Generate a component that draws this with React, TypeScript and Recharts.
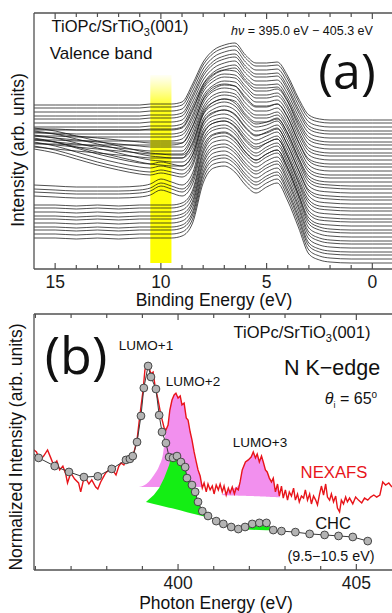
import React from 'react'
import { LineChart, ComposedChart, Line, Area, XAxis, YAxis, ReferenceArea } from 'recharts'

// ---------- panel (a): valence band spectra, stacked ----------
const bindingEnergy = [16, 15, 14, 13, 12, 11, 10.5, 10, 9.5, 9, 8.5, 8, 7.5, 7, 6.5, 6, 5.5, 5, 4.5, 4, 3.5, 3, 2.5, 2, 1, 0, -1]
const bindingTicks = [15, 14, 13, 12, 11, 10, 9, 8, 7, 6, 5, 4, 3, 2, 1, 0]

// spectrum shapes, height above each trace's own baseline
const shapePre = [25, 25, 24, 25, 24, 25, 25, 25, 25, 27, 40, 80, 95, 97, 91, 78, 70, 76, 80, 62, 36, 9, 3, 1, 0, 0, 0]
const shapeResA = [30, 29, 28, 28, 28, 29, 31, 36, 33, 30, 42, 80, 92, 94, 88, 74, 66, 72, 76, 58, 32, 8, 2, 1, 0, 0, 0]
const shapeResB = [62, 58, 52, 46, 41, 37, 36, 38, 36, 34, 45, 78, 88, 90, 85, 72, 64, 68, 72, 54, 30, 8, 2, 1, 0, 0, 0]
const shapeResC = [58, 55, 50, 45, 40, 35, 33, 32, 31, 31, 42, 74, 84, 87, 83, 70, 62, 64, 68, 52, 28, 7, 2, 1, 0, 0, 0]
const shapePost = [35, 33, 31, 29, 27, 25, 24, 24, 24, 24, 40, 68, 80, 83, 81, 68, 60, 60, 63, 49, 25, 6, 1, 0, 0, 0, 0]
const shapeMidTop = [20, 20, 19, 19, 19, 19, 19, 19, 19, 21, 38, 64, 75, 79, 78, 67, 58, 58, 60, 47, 23, 5, 1, 0, 0, 0, 0]
const shapeTop = [15, 15, 15, 15, 15, 15, 16, 16, 16, 18, 36, 58, 70, 75, 77, 65, 57, 57, 58, 44, 22, 5, 1, 0, 0, 0, 0]

const shapes: Record<string, number[]> = {
  pre: shapePre, resA: shapeResA, resB: shapeResB, resC: shapeResC,
  post: shapePost, midTop: shapeMidTop, top: shapeTop,
}

// which shape each trace uses (bottom = 395.0 eV, top = 405.3 eV)
const traceShape = [
  'pre', 'pre', 'pre', 'pre', 'pre', 'pre', 'pre', 'pre', 'pre', 'pre',
  'resA', 'resA', 'resA', 'resA',
  'resB', 'resB', 'resB', 'resB',
  'resC', 'resC', 'resC', 'resC',
  'post', 'post', 'post', 'post', 'post',
  'midTop', 'midTop', 'midTop', 'midTop', 'midTop',
  'top', 'top', 'top', 'top', 'top', 'top', 'top', 'top',
]
const traceOffset = [
  6, 10, 14, 17, 21, 25, 28, 32, 36, 39,
  43, 47, 50, 54, 58, 61, 65, 69, 72, 76,
  80, 83, 87, 91, 94, 98, 102, 105, 109, 113,
  116, 120, 124, 127, 131, 135, 138, 142, 146, 149,
]

// ---------- panel (b): N K-edge NEXAFS and CHC ----------
const nexafsEnergy = [
  395.95, 396.03, 396.12, 396.23, 396.34, 396.43, 396.51, 396.6, 396.68, 396.77, 396.85, 396.9, 396.99, 397.1, 397.21, 397.27,
  397.36, 397.41, 397.5, 397.58, 397.69, 397.75, 397.83, 397.92, 397.97, 398.06, 398.11, 398.2, 398.26, 398.34, 398.4, 398.48,
  398.54, 398.62, 398.68, 398.76, 398.85, 398.93, 399.02, 399.07, 399.13, 399.18, 399.24, 399.3, 399.35, 399.44, 399.52, 399.61,
  399.66, 399.72, 399.77, 399.83, 399.89, 399.94, 400.0, 400.06, 400.11, 400.17, 400.23, 400.28, 400.34, 400.39, 400.45, 400.51,
  400.56, 400.62, 400.68, 400.73, 400.79, 400.84, 400.9, 400.96, 401.01, 401.07, 401.13, 401.18, 401.24, 401.29, 401.35, 401.41,
  401.46, 401.52, 401.58, 401.63, 401.69, 401.74, 401.8, 401.89, 401.97, 402.05, 402.11, 402.17, 402.22, 402.28, 402.34, 402.39,
  402.45, 402.5, 402.56, 402.62, 402.67, 402.73, 402.79, 402.84, 402.9, 402.95, 403.01, 403.07, 403.12, 403.18, 403.24, 403.29,
  403.35, 403.4, 403.46, 403.52, 403.57, 403.63, 403.69, 403.74, 403.8, 403.86, 403.91, 403.97, 404.02, 404.08, 404.14, 404.19,
  404.25, 404.3, 404.36, 404.42, 404.47, 404.53, 404.58, 404.64, 404.7, 404.75, 404.81, 404.9, 404.98, 405.06, 405.15, 405.23,
  405.32, 405.4, 405.49, 405.57, 405.66, 405.74, 405.82, 405.91, 406.0,
]
const nexafsIntensity = [
  46.9, 46.1, 43.0, 44.5, 46.9, 43.8, 41.0, 42.6, 39.1, 40.6, 37.5, 34.0, 37.9, 35.5, 34.0, 30.5,
  35.9, 35.9, 33.6, 35.2, 32.4, 31.6, 34.4, 36.7, 37.9, 39.1, 39.8, 38.3, 37.1, 40.6, 41.8, 41.0,
  43.0, 42.6, 44.1, 45.7, 50.8, 60.5, 70.3, 78.1, 80.5, 79.3, 76.6, 77.3, 72.3, 66.4, 60.5, 55.5,
  54.7, 56.6, 62.5, 66.4, 68.4, 69.1, 67.2, 68.0, 64.5, 65.2, 59.4, 58.6, 53.9, 50.8, 46.1, 42.2,
  39.1, 36.7, 32.0, 34.0, 30.5, 33.6, 31.3, 32.8, 29.7, 33.2, 31.3, 33.6, 30.5, 32.8, 29.3, 32.0,
  30.1, 32.4, 29.7, 32.0, 31.3, 34.4, 39.1, 42.2, 43.0, 44.1, 46.1, 43.8, 45.3, 42.2, 44.5, 42.2,
  39.1, 38.3, 35.9, 34.4, 35.9, 30.5, 33.6, 28.9, 32.8, 28.1, 31.3, 27.3, 30.5, 28.9, 32.0, 27.3,
  29.7, 26.6, 28.9, 28.1, 31.3, 27.3, 29.7, 25.8, 28.9, 27.3, 25.4, 29.7, 32.8, 29.3, 33.6, 28.5,
  27.3, 29.7, 26.6, 28.9, 24.2, 22.7, 27.3, 25.8, 28.5, 26.6, 28.1, 25.8, 28.5, 27.3, 26.2, 28.1,
  27.3, 28.5, 29.3, 28.5, 29.3, 34.4, 33.2, 34.0, 32.4,
]

const chcEnergy = [
  395.7, 396.09, 396.54, 396.94, 397.36, 397.75, 398.14, 398.54, 398.65, 398.73, 398.85, 398.96, 399.04, 399.16, 399.24, 399.38,
  399.47, 399.55, 399.66, 399.75, 399.86, 399.97, 400.08, 400.2, 400.25, 400.39, 400.48, 400.56, 400.68, 400.84, 401.07, 401.27,
  401.49, 401.69, 401.88, 402.08, 402.28, 402.48, 402.67, 402.9, 403.29, 403.69, 404.11, 404.5, 404.9, 405.32,
]
const chcIntensity = [
  48.5, 43.8, 40.6, 38.3, 36.3, 36.6, 39.5, 43.0, 43.4, 44.5, 50.0, 60.2, 71.1, 79.7, 75.4, 70.7,
  60.5, 53.9, 49.6, 44.1, 43.8, 44.5, 42.2, 40.2, 35.9, 33.2, 30.5, 26.6, 23.0, 21.1, 19.1, 18.0,
  16.8, 16.0, 16.8, 18.0, 18.4, 18.4, 15.6, 15.2, 14.8, 14.1, 13.7, 13.3, 12.9, 11.3,
]

// LUMO+2 / LUMO+3 components of NEXAFS (pink)
const lumo2Energy = [398.9, 399.04, 399.18, 399.32, 399.47, 399.58, 399.66, 399.72, 399.77, 399.83, 399.89, 399.94, 400.0, 400.06, 400.11, 400.17, 400.23, 400.28, 400.34, 400.39, 400.45, 400.51, 400.56, 400.62, 400.68]
const lumo2Top = [32.4, 33.0, 34.5, 37.0, 40.6, 45.5, 54.7, 56.6, 62.5, 66.4, 68.4, 69.1, 67.2, 68.0, 64.5, 65.2, 59.4, 58.6, 53.9, 50.8, 46.1, 42.2, 39.1, 36.7, 32.2]
const lumo2Base = [32.4, 32.4, 32.4, 32.4, 32.4, 32.4, 32.4, 32.4, 32.4, 32.4, 32.4, 32.4, 32.4, 32.4, 32.4, 32.4, 32.4, 32.4, 32.4, 32.4, 32.4, 32.4, 32.4, 32.4, 32.2]
const lumo3Energy = [401.21, 401.38, 401.55, 401.66, 401.74, 401.8, 401.89, 401.97, 402.05, 402.11, 402.17, 402.22, 402.28, 402.34, 402.39, 402.45, 402.5, 402.56, 402.62, 402.67, 402.73, 402.79, 402.86]
const lumo3Top = [29.3, 30.6, 31.8, 32.6, 34.4, 39.1, 42.2, 43.0, 44.1, 46.1, 43.8, 45.3, 42.2, 44.5, 42.2, 39.1, 38.3, 35.9, 34.4, 35.9, 30.5, 33.6, 28.4]
const lumo3Base = [29.3, 29.2, 29.1, 29.1, 29.0, 29.0, 29.0, 28.9, 28.9, 28.9, 28.8, 28.8, 28.8, 28.7, 28.7, 28.7, 28.6, 28.6, 28.5, 28.5, 28.5, 28.4, 28.4]

// CHC components (green)
const chc2Energy = [399.1, 399.32, 399.47, 399.61, 399.75, 399.8, 399.86, 399.97, 400.08, 400.2, 400.25, 400.39, 400.48, 400.56, 400.68, 400.84, 400.95]
const chc2Top = [26.6, 29.3, 32.0, 35.9, 41.0, 43.9, 43.8, 44.5, 42.2, 40.2, 35.9, 33.2, 30.5, 26.6, 23.0, 21.1, 20.1]
const chc2Base = [26.6, 25.8, 25.3, 24.8, 24.3, 24.2, 24.0, 23.6, 23.2, 22.8, 22.6, 22.1, 21.8, 21.5, 21.1, 20.5, 20.1]
const chc3Energy = [401.6, 401.69, 401.88, 402.08, 402.28, 402.48, 402.64]
const chc3Top = [15.9, 16.0, 16.8, 18.0, 18.4, 18.4, 15.5]
const chc3Base = [15.9, 15.9, 15.8, 15.7, 15.6, 15.5, 15.5]

const photonTicks = [396, 397, 398, 399, 400, 401, 402, 403, 404, 405]

const FONT = '"Liberation Sans", Arial, sans-serif'
const AXIS = '#505050'

const waterfallRows = bindingEnergy.map((be, i) => {
  const row: Record<string, number> = { be }
  traceOffset.forEach((off, c) => {
    row['t' + c] = off + shapes[traceShape[c]][i]
  })
  return row
})

const pairs = (xs: number[], ys: number[]) => xs.map((x, i) => ({ x, y: ys[i] }))
const bands = (xs: number[], lo: number[], hi: number[]) => xs.map((x, i) => ({ x, band: [lo[i], hi[i]] }))

const nexafsData = pairs(nexafsEnergy, nexafsIntensity)
const chcData = pairs(chcEnergy, chcIntensity)
const lumo2Data = bands(lumo2Energy, lumo2Base, lumo2Top)
const lumo3Data = bands(lumo3Energy, lumo3Base, lumo3Top)
const chc2Data = bands(chc2Energy, chc2Base, chc2Top)
const chc3Data = bands(chc3Energy, chc3Base, chc3Top)

const makeTick = (side: 'bottom' | 'top', majorEvery: number) => (props: any) => {
  const { x, y, payload } = props
  const major = payload.value % majorEvery === 0
  const len = major ? 6 : 4
  const y2 = side === 'bottom' ? y - len : y + len
  return (
    <g>
      <line x1={x} x2={x} y1={y} y2={y2} stroke={AXIS} strokeWidth={1.2} />
      {side === 'bottom' && major && (
        <text x={x} y={y + 19} textAnchor="middle" fontSize={17.5} fontFamily={FONT} fill="#1a1a1a">
          {payload.value}
        </text>
      )}
    </g>
  )
}

const Txt = ({ x, y, size, color = '#111', rotate = false, style, children }: any) => (
  <div
    style={{
      position: 'absolute', left: x, top: y, fontSize: size, color, lineHeight: 1,
      whiteSpace: 'nowrap', fontFamily: FONT,
      transform: `translate(-50%, -50%)${rotate ? ' rotate(-90deg)' : ''}`,
      ...style,
    }}
  >
    {children}
  </div>
)

export default function App() {
  return (
    <div style={{ position: 'fixed', left: 0, top: 0, width: 392, height: 613, overflow: 'hidden', background: '#fff' }}>
      {/* (a) valence band */}
      <div style={{ position: 'absolute', left: 0, top: 0 }}>
        <LineChart width={392} height={300} data={waterfallRows} margin={{ top: 12, right: 0, bottom: 1, left: 33 }}>
          <defs>
            <linearGradient id="yellowFade" x1="0" y1="0" x2="0" y2="1">
              <stop offset="0%" stopColor="#ffff40" stopOpacity={0.05} />
              <stop offset="17%" stopColor="#ffff00" stopOpacity={0.9} />
              <stop offset="100%" stopColor="#ffff00" stopOpacity={1} />
            </linearGradient>
          </defs>
          <XAxis xAxisId="b" dataKey="be" type="number" domain={[-0.93, 16]} reversed allowDataOverflow
            ticks={bindingTicks} interval={0} tickSize={0} tickMargin={0} height={30}
            axisLine={{ stroke: AXIS, strokeWidth: 1.3 }} tickLine={false} tick={makeTick('bottom', 5)} />
          <XAxis xAxisId="t" dataKey="be" type="number" orientation="top" domain={[-0.93, 16]} reversed allowDataOverflow
            ticks={bindingTicks} interval={0} tickSize={0} tickMargin={0} height={1}
            axisLine={{ stroke: AXIS, strokeWidth: 1.3 }} tickLine={false} tick={makeTick('top', 5)} />
          <YAxis type="number" domain={[0, 256]} allowDataOverflow width={1} tick={false} tickLine={false}
            axisLine={{ stroke: AXIS, strokeWidth: 1.3 }} />
          <ReferenceArea xAxisId="b" x1={10.5} x2={9.5} y1={6} y2={194} fill="url(#yellowFade)" fillOpacity={1} stroke="none" />
          {traceOffset.map((_, c) => (
            <Line key={c} xAxisId="b" dataKey={'t' + c} type="monotone" stroke="#151515" strokeWidth={0.75}
              dot={false} activeDot={false} isAnimationActive={false} />
          ))}
        </LineChart>
      </div>

      {/* (b) NEXAFS vs CHC */}
      <div style={{ position: 'absolute', left: 0, top: 300 }}>
        <ComposedChart width={392} height={313} margin={{ top: 13, right: 0, bottom: 13, left: 33 }}>
          <XAxis xAxisId="b" dataKey="x" type="number" domain={[395.96, 406]} allowDataOverflow
            ticks={photonTicks} interval={0} tickSize={0} tickMargin={0} height={30}
            axisLine={{ stroke: AXIS, strokeWidth: 1.3 }} tickLine={false} tick={makeTick('bottom', 5)} />
          <XAxis xAxisId="t" dataKey="x" type="number" orientation="top" domain={[395.96, 406]} allowDataOverflow
            ticks={photonTicks} interval={0} tickSize={0} tickMargin={0} height={1}
            axisLine={{ stroke: AXIS, strokeWidth: 1.3 }} tickLine={false} tick={makeTick('top', 5)} />
          <YAxis type="number" domain={[0, 100]} allowDataOverflow width={1} tick={false} tickLine={false}
            axisLine={{ stroke: AXIS, strokeWidth: 1.3 }} />
          <Area xAxisId="b" data={lumo2Data} dataKey="band" type="monotone" fill="#f290ee" fillOpacity={1} stroke="none" isAnimationActive={false} />
          <Area xAxisId="b" data={lumo3Data} dataKey="band" type="monotone" fill="#f290ee" fillOpacity={1} stroke="none" isAnimationActive={false} />
          <Area xAxisId="b" data={chc2Data} dataKey="band" type="linear" fill="#14ee14" fillOpacity={1} stroke="none" isAnimationActive={false} />
          <Area xAxisId="b" data={chc3Data} dataKey="band" type="linear" fill="#14ee14" fillOpacity={1} stroke="none" isAnimationActive={false} />
          <Line xAxisId="b" data={nexafsData} dataKey="y" type="linear" stroke="#e8141a" strokeWidth={1.4}
            dot={false} activeDot={false} isAnimationActive={false} />
          <Line xAxisId="b" data={chcData} dataKey="y" type="linear" stroke="#3a3a3a" strokeWidth={1}
            dot={{ r: 3.9, fill: '#b4b4b4', stroke: '#383838', strokeWidth: 0.9 }} activeDot={false} isAnimationActive={false} />
        </ComposedChart>
      </div>

      {/* panel (a) labels */}
      <Txt x={120} y={28} size={16.5}>TiOPc/SrTiO<sub style={{ fontSize: 11 }}>3</sub>(001)</Txt>
      <Txt x={101} y={53} size={17}>Valence band</Txt>
      <Txt x={302} y={31} size={12.5}><i>h</i><i>ν</i> = 395.0 eV − 405.3 eV</Txt>
      <Txt x={347} y={70} size={50} style={{ fontFamily: '"Open Sans", sans-serif' }}>(a)</Txt>
      <Txt x={19} y={150} size={17.5} rotate>Intensity (arb. units)</Txt>
      <Txt x={214} y={301} size={17.5}>Binding Energy (eV)</Txt>

      {/* panel (b) labels */}
      <Txt x={76} y={354} size={52} style={{ fontFamily: '"Open Sans", sans-serif' }}>(b)</Txt>
      <Txt x={146} y={346} size={13.5}>LUMO+1</Txt>
      <Txt x={193} y={382} size={13.5}>LUMO+2</Txt>
      <Txt x={260} y={443} size={13.5}>LUMO+3</Txt>
      <Txt x={302} y={334} size={16.5}>TiOPc/SrTiO<sub style={{ fontSize: 11 }}>3</sub>(001)</Txt>
      <Txt x={332} y={369} size={21.5}>N K−edge</Txt>
      <Txt x={351} y={400} size={16}><i>θ</i><sub style={{ fontSize: 9 }}>i</sub> = 65<sup style={{ fontSize: 10 }}>o</sup></Txt>
      <Txt x={334} y={473} size={16.7} color="#e8141a">NEXAFS</Txt>
      <Txt x={333} y={523} size={16.5}>CHC</Txt>
      <Txt x={331} y={556} size={14.3}>(9.5−10.5 eV)</Txt>
      <Txt x={17} y={447} size={17.5} rotate>Normalized Intensity (arb. units)</Txt>
      <Txt x={216} y={604} size={17.5}>Photon Energy (eV)</Txt>
    </div>
  )
}
